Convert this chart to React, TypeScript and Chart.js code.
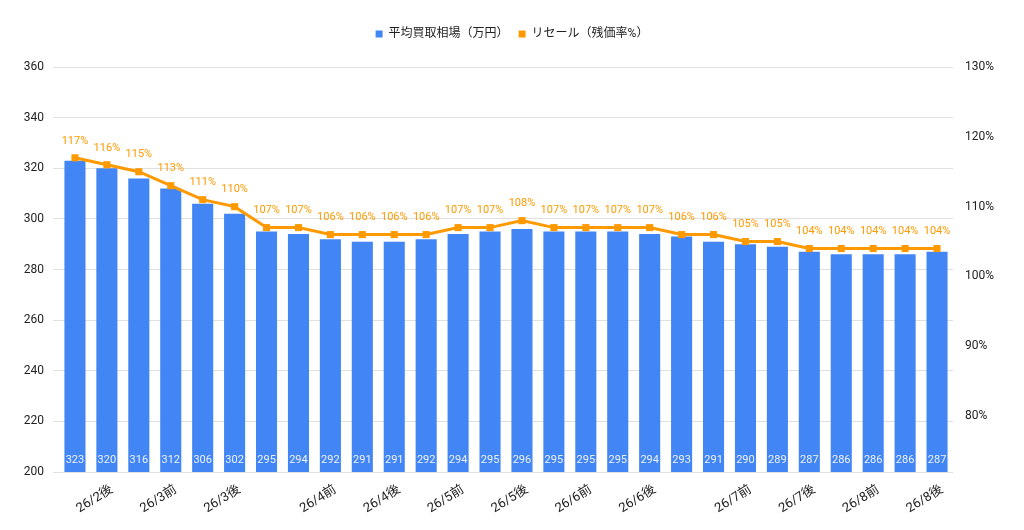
import React, { useEffect, useRef } from 'react';
import { Chart, registerables } from 'chart.js';

Chart.register(...registerables);

// x labels (only the ones the reference shows)
const periods = [
  '', '26/2後', '', '26/3前', '', '26/3後', '', '', '26/4前', '', '26/4後', '', '26/5前', '',
  '26/5後', '', '26/6前', '', '26/6後', '', '', '26/7前', '', '26/7後', '', '26/8前', '', '26/8後',
];
const avgPrice = [
  323, 320, 316, 312, 306, 302, 295, 294, 292, 291, 291, 292, 294, 295,
  296, 295, 295, 295, 294, 293, 291, 290, 289, 287, 286, 286, 286, 287,
];
const resaleRate = [
  117, 116, 115, 113, 111, 110, 107, 107, 106, 106, 106, 106, 107, 107,
  108, 107, 107, 107, 107, 106, 106, 105, 105, 104, 104, 104, 104, 104,
];

const FONT = "Roboto, 'Noto Sans CJK JP', sans-serif";

const valueLabels = {
  id: 'valueLabels',
  afterDatasetsDraw(chart: any) {
    const ctx = chart.ctx;
    const bottom = chart.chartArea.bottom;
    ctx.save();
    ctx.textAlign = 'center';
    ctx.textBaseline = 'middle';
    ctx.font = `11px ${FONT}`;
    chart.data.datasets.forEach((ds: any, i: number) => {
      const meta = chart.getDatasetMeta(i);
      meta.data.forEach((el: any, j: number) => {
        const v = ds.data[j];
        if (meta.type === 'bar') {
          ctx.fillStyle = 'rgba(255,255,255,0.9)';
          ctx.fillText(String(v), el.x, Math.min(el.base, bottom) - 12);
        } else {
          ctx.fillStyle = '#FF9900';
          ctx.fillText(v + '%', el.x, el.y - 17);
        }
      });
    });
    ctx.restore();
  },
};

// extra room between the legend and the plot
const legendGap = {
  id: 'legendGap',
  beforeLayout(chart: any) {
    const legend = chart.legend;
    if (legend && !legend._gapPatched) {
      const fit = legend.fit;
      legend.fit = function () {
        fit.call(this);
        this.height += 17;
      };
      legend._gapPatched = true;
    }
  },
};

const ResaleChart: React.FC = () => {
  const canvasRef = useRef<HTMLCanvasElement>(null);

  useEffect(() => {
    Chart.defaults.font.family = FONT;
    Chart.defaults.color = '#222';

    const chart = new Chart(canvasRef.current!, {
      type: 'bar',
      data: {
        labels: periods,
        datasets: [
          {
            type: 'bar',
            label: '平均買取相場（万円）',
            data: avgPrice,
            backgroundColor: '#4285F4',
            categoryPercentage: 1,
            barPercentage: 0.66,
            yAxisID: 'y',
            order: 1,
            pointStyle: 'rect',
          } as any,
          {
            type: 'line',
            label: 'リセール（残価率%）',
            data: resaleRate,
            borderColor: '#FF9900',
            backgroundColor: '#FF9900',
            borderWidth: 3,
            pointStyle: 'rect',
            pointRadius: 5,
            pointBorderWidth: 0,
            yAxisID: 'y1',
            order: 0,
          },
        ],
      },
      options: {
        animation: false,
        responsive: true,
        maintainAspectRatio: false,
        layout: { padding: { top: 18, left: 0, right: 0, bottom: 0 } },
        plugins: {
          legend: {
            position: 'top',
            labels: {
              usePointStyle: true,
              boxHeight: 7,
              boxWidth: 7,
              padding: 10,
              color: '#222',
              font: { size: 12 },
              sort: (a: any, b: any) => a.datasetIndex - b.datasetIndex,
            },
          },
          tooltip: { enabled: false },
        },
        scales: {
          x: {
            grid: { display: false },
            border: { display: false },
            ticks: {
              autoSkip: false,
              minRotation: 32,
              maxRotation: 32,
              color: '#222',
              font: { size: 13 },
              padding: 2,
              labelOffset: 5,
            },
            afterFit: (s: any) => { s.height = 58; },
          },
          y: {
            position: 'left',
            min: 200,
            max: 360,
            ticks: { stepSize: 20, color: '#222', font: { size: 12 }, padding: 9 },
            grid: { color: '#e0e0e0', tickLength: 6 },
            border: { display: false },
            afterFit: (s: any) => { s.width = 59; },
          },
          y1: {
            position: 'right',
            min: 72,
            max: 130,
            ticks: {
              stepSize: 10,
              color: '#222',
              font: { size: 12 },
              padding: 4,
              callback: (v: any) => v + '%',
            },
            afterBuildTicks: (s: any) => {
              s.ticks = s.ticks.filter((t: any) => t.value % 10 === 0);
            },
            grid: { display: false },
            border: { display: false },
            afterFit: (s: any) => { s.width = 71; },
          },
        },
      },
      plugins: [valueLabels, legendGap],
    });

    return () => {
      chart.destroy();
    };
  }, []);

  return (
    <div style={{ position: 'absolute', left: 0, top: 0, width: 1024, height: 530, background: '#fff' }}>
      <canvas ref={canvasRef} />
    </div>
  );
};

export default function App() {
  return <ResaleChart />;
}
